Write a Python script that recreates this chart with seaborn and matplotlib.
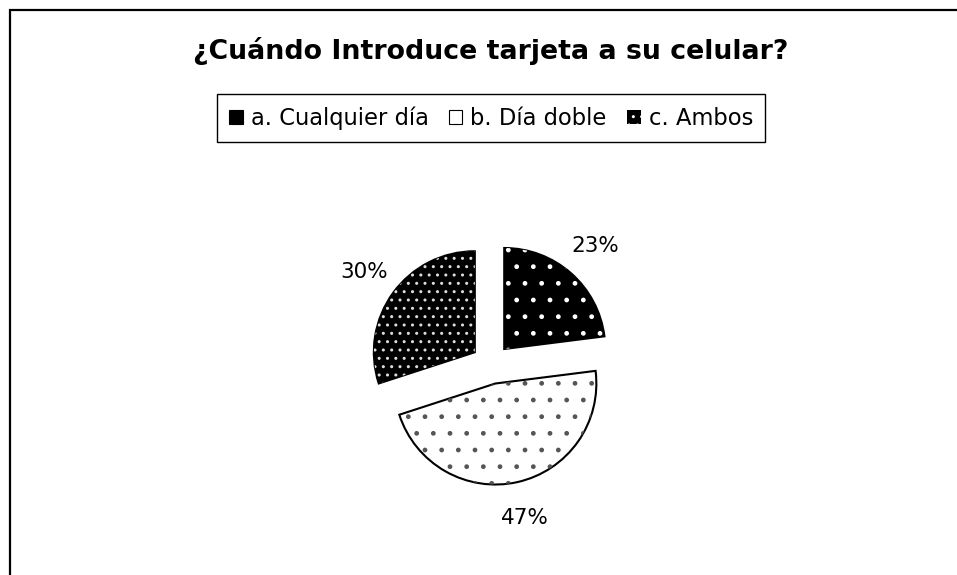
import numpy as np
import matplotlib
matplotlib.use("Agg")
import matplotlib.pyplot as plt
from matplotlib.patches import Patch, Rectangle
import seaborn as sns

# data
categories = ["a. Cualquier día", "b. Día doble", "c. Ambos"]
shares = [23, 47, 30]
title = "¿Cuándo Introduce tarjeta a su celular?"

# look of each slice
face_cols = ["black", "white", "black"]
dot_cols = ["white", "#555555", "#dddddd"]
dot_hatch = [".", ".", ".."]

sns.set_theme(style="white")
plt.rcParams["font.family"] = ["DejaVu Sans"]
plt.rcParams["text.color"] = "black"
plt.rcParams["hatch.linewidth"] = 1.0

fig = plt.figure(figsize=(9.57, 5.75), dpi=100)

# pie axes: centre ~ (491, 364) px, radius ~ 101 px
ax = fig.add_axes([(491 - 160) / 957, (575 - 364 - 160) / 575, 320 / 957, 320 / 575])
explode = [0.2] * len(shares)

wedges, _, autotexts = ax.pie(shares, colors=face_cols, explode=explode, startangle=90,
                              counterclock=False, radius=1.01, autopct="%1.0f%%",
                              pctdistance=1.36,
                              wedgeprops=dict(edgecolor="black", linewidth=1.5),
                              textprops=dict(fontsize=15.5, color="black"))
# dotted fill on top of the solid slices
dots, _ = ax.pie(shares, colors=["none"] * 3, explode=explode, startangle=90,
                 counterclock=False, radius=1.01,
                 wedgeprops=dict(linewidth=0))
for w, c, h in zip(dots, dot_cols, dot_hatch):
    w.set_edgecolor(c)
    w.set_hatch(h)
    w.set_linewidth(0)

ax.set_xlim(-1.6, 1.6)
ax.set_ylim(-1.6, 1.6)
ax.set_aspect("equal")
ax.axis("off")

fig.text(491 / 957, 1 - 59 / 575, title, ha="center", va="baseline",
         fontsize=19.3, fontweight="bold", color="black")

handles = [Patch(facecolor="black", edgecolor="black", linewidth=0.8),
           Patch(facecolor="white", edgecolor="black", linewidth=0.8),
           Patch(facecolor="black", edgecolor="white", hatch="..", linewidth=0)]
leg = fig.legend(handles, categories, loc="center", bbox_to_anchor=(491 / 957, 1 - 118 / 575),
                 ncol=3, fontsize=16.3, frameon=True, fancybox=False, shadow=False,
                 handlelength=0.6, handleheight=0.6, handletextpad=0.35,
                 columnspacing=0.9, borderpad=0.55, borderaxespad=0)
for t in leg.get_texts():
    t.set_color("black")
leg.get_frame().set_edgecolor("black")
leg.get_frame().set_linewidth(1.0)
leg.get_frame().set_alpha(1)

# outer border (only top and left visible in the crop)
fig.add_artist(Rectangle((10 / 957, -0.1), 1.2, 1.1 - 10 / 575, transform=fig.transFigure,
                         fill=False, edgecolor="black", linewidth=1.6))

fig.savefig("out.png", dpi=100)
